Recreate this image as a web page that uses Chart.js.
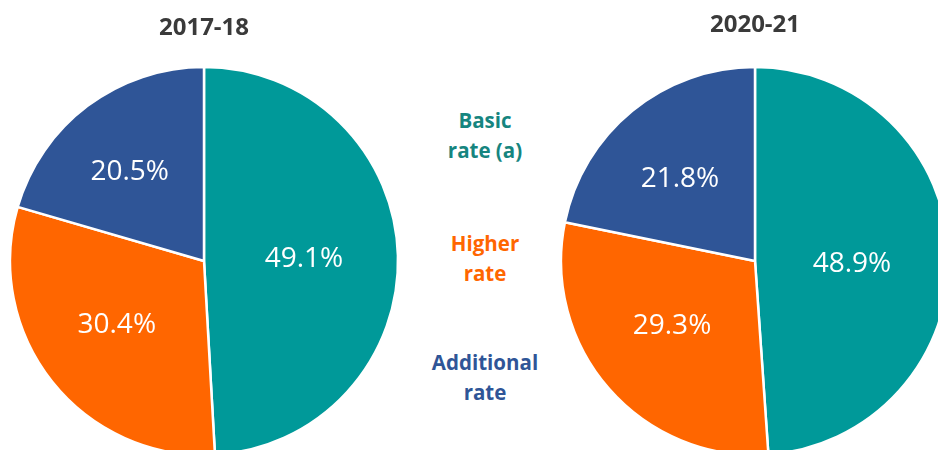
<!DOCTYPE html>
<html>
<head>
<meta charset="utf-8">
<script src="https://cdn.jsdelivr.net/npm/chart.js@4"></script>
<style>
  body { margin: 0; background: #fff; }
  #wrap { position: relative; width: 938px; height: 450px; overflow: hidden; background: #fff; }
  .pie { position: absolute; top: 0; width: 400px; height: 461px; }
  #legend { position: absolute; left: 420px; top: 0; width: 130px; }
  .key { position: absolute; left: 0; width: 130px; text-align: center;
         font: bold 20.5px "Open Sans", sans-serif; line-height: 30px; }
</style>
</head>
<body>
<div id="wrap">
  <div class="pie" style="left:4px"><canvas id="pieLeft"></canvas></div>
  <div class="pie" style="left:555px"><canvas id="pieRight"></canvas></div>
  <div id="legend"></div>
</div>
<script>
const categories = [['Basic', 'rate (a)'], ['Higher', 'rate'], ['Additional', 'rate']];
const years = ['2017-18', '2020-21'];
const share1718 = [49.1, 30.4, 20.5];
const share2021 = [48.9, 29.3, 21.8];

const sliceColors = ['#009999', '#FF6600', '#2F5597'];
const keyColors = ['#16857F', '#FF6600', '#2F5597'];
const keyTops = [105, 228, 347];
// how far out along the radius each percentage sits
const labelDepth = [0.5, 0.555, 0.595];
// small per-label pixel shifts so the text sits where it looks best
const nudgeLeft = [[3, 1], [-3, -3], [-5, 3]];
const nudgeRight = [[0, 6], [-2, -6], [-2, 7]];

const pctLabels = {
    id: 'pctLabels',
    afterDatasetsDraw(chart, args, opts) {
        const ctx = chart.ctx;
        const meta = chart.getDatasetMeta(0);
        const values = chart.data.datasets[0].data;
        const nudge = opts.nudge || [];
        ctx.save();
        ctx.fillStyle = '#ffffff';
        ctx.font = '28px "Open Sans", sans-serif';
        ctx.textAlign = 'center';
        ctx.textBaseline = 'middle';
        meta.data.forEach((arc, i) => {
            const p = arc.getProps(['x', 'y', 'startAngle', 'endAngle', 'outerRadius'], true);
            const mid = (p.startAngle + p.endAngle) / 2;
            const r = p.outerRadius * labelDepth[i];
            const [dx, dy] = nudge[i] || [0, 0];
            ctx.fillText(values[i].toFixed(1) + '%',
                p.x + Math.cos(mid) * r + dx,
                p.y + Math.sin(mid) * r + dy);
        });
        ctx.restore();
    }
};

function makePie(id, title, values, titleTop, nudge) {
    const ctx = document.getElementById(id).getContext('2d');
    return new Chart(ctx, {
        type: 'pie',
        data: {
            labels: categories,
            datasets: [{
                data: values,
                backgroundColor: sliceColors,
                borderColor: '#ffffff',
                borderWidth: 2.5,
                hoverOffset: 0,
                radius: 194
            }]
        },
        options: {
            responsive: true,
            maintainAspectRatio: false,
            animation: false,
            events: [],
            layout: { padding: { left: 6, right: 6, bottom: 6, top: 0 } },
            plugins: {
                legend: { display: false },
                tooltip: { enabled: false },
                title: {
                    display: true,
                    text: title,
                    color: '#3a3a3a',
                    font: { family: '"Open Sans", sans-serif', size: 24, weight: 'bold', lineHeight: 1.2 },
                    padding: { top: titleTop, bottom: 67 - titleTop - 28.8 }
                },
                pctLabels: { nudge: nudge }
            }
        },
        plugins: [pctLabels]
    });
}

makePie('pieLeft', years[0], share1718, 14, nudgeLeft);
makePie('pieRight', years[1], share2021, 11, nudgeRight);

// shared key in the gap between the two pies
const legend = document.getElementById('legend');
categories.forEach((lines, i) => {
    const el = document.createElement('div');
    el.className = 'key';
    el.style.top = keyTops[i] + 'px';
    el.style.color = keyColors[i];
    el.innerHTML = lines.join('<br>');
    legend.appendChild(el);
});
</script>
</body>
</html>
